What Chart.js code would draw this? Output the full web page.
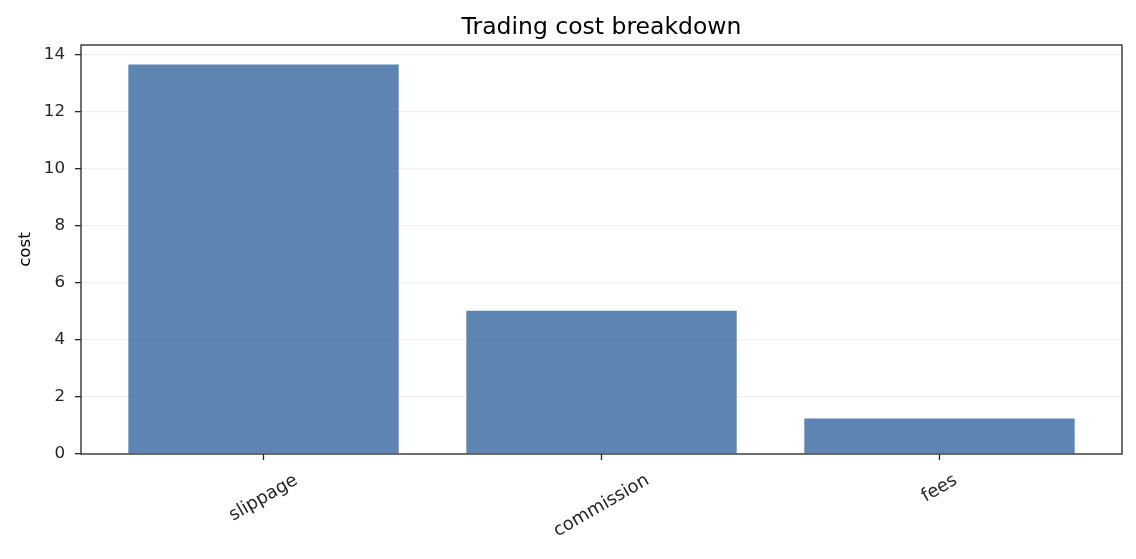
<!DOCTYPE html>
<html>
<head>
<meta charset="utf-8">
<script src="https://cdn.jsdelivr.net/npm/chart.js@4/dist/chart.umd.min.js"></script>
<style>
  body { margin: 0; background: #fff; }
  #wrap { width: 1136px; height: 559px; }
</style>
</head>
<body>
<div id="wrap"><canvas id="myChart" width="1136" height="559"></canvas></div>
<script>
// chart data
var categories = ["slippage", "commission", "fees"];
var costs = [13.65, 5.02, 1.24];
var yTicks = [0, 2, 4, 6, 8, 10, 12, 14];
var chartTitle = "Trading cost breakdown";

var FONT = "'DejaVu Sans', sans-serif";
var DARK = "#262626";
var TICK_SIZE = 16.7;
var XLABEL_SIZE = 18;

// frame round the plot area, title over the plot area, rotated x labels centred under the ticks
var framePlugin = {
  id: "frame",
  afterDraw: function(chart) {
    var ctx = chart.ctx;
    var a = chart.chartArea;
    var x = chart.scales.x;
    ctx.save();
    ctx.strokeStyle = DARK;
    ctx.lineWidth = 1.3;
    ctx.strokeRect(a.left, a.top, a.right - a.left, a.bottom - a.top);

    ctx.fillStyle = "#000";
    ctx.font = "23.5px " + FONT;
    ctx.textAlign = "center";
    ctx.textBaseline = "alphabetic";
    ctx.fillText(chartTitle, (a.left + a.right) / 2, a.top - 11);

    ctx.fillStyle = DARK;
    ctx.font = XLABEL_SIZE + "px " + FONT;
    ctx.textBaseline = "middle";
    var ang = Math.PI / 6;
    var h = XLABEL_SIZE * 1.17;
    categories.forEach(function(name, i) {
      var w = ctx.measureText(name).width;
      var half = (w * Math.sin(ang) + h * Math.cos(ang)) / 2;
      var px = x.getPixelForValue(i);
      ctx.save();
      ctx.translate(px, a.bottom + 16 + half);
      ctx.rotate(-ang);
      ctx.fillText(name, 0, 0);
      ctx.restore();
    });
    ctx.restore();
  }
};

var ctx = document.getElementById("myChart").getContext("2d");
var chart = new Chart(ctx, {
  type: "bar",
  data: {
    datasets: [
      {
        label: "cost",
        data: costs.map(function(v, i) { return { x: i, y: v }; }),
        backgroundColor: "rgba(76, 120, 168, 0.9)",
        borderWidth: 0,
        barPercentage: 0.8,
        categoryPercentage: 1.0
      }
    ]
  },
  options: {
    responsive: false,
    animation: false,
    devicePixelRatio: 1,
    layout: { padding: { left: 0, right: 14, top: 45, bottom: 0 } },
    plugins: {
      legend: { display: false },
      tooltip: { enabled: false },
      title: { display: false }
    },
    scales: {
      x: {
        type: "linear",
        offset: false,
        min: -0.54,
        max: 2.54,
        afterBuildTicks: function(s) {
          s.ticks = categories.map(function(c, i) { return { value: i }; });
        },
        afterFit: function(s) { s.height = 105; },
        ticks: { display: false },
        grid: { offset: false, drawOnChartArea: false, drawTicks: true, tickLength: 6, color: DARK, tickWidth: 1.3 },
        border: { display: false }
      },
      y: {
        z: 1,
        min: 0,
        max: 14.33,
        afterBuildTicks: function(s) {
          s.ticks = yTicks.map(function(v) { return { value: v }; });
        },
        afterFit: function(s) { s.width = 81; },
        ticks: {
          color: DARK,
          padding: 10,
          font: { family: FONT, size: TICK_SIZE }
        },
        grid: {
          color: "rgba(176,176,176,0.2)",
          lineWidth: 1.3,
          tickColor: DARK,
          tickLength: 6,
          tickWidth: 1.3
        },
        border: { display: false },
        title: {
          display: true,
          text: "cost",
          color: "#000",
          font: { family: FONT, size: TICK_SIZE },
          padding: { top: 16, bottom: 0 }
        }
      }
    }
  },
  plugins: [framePlugin]
});
</script>
</body>
</html>
